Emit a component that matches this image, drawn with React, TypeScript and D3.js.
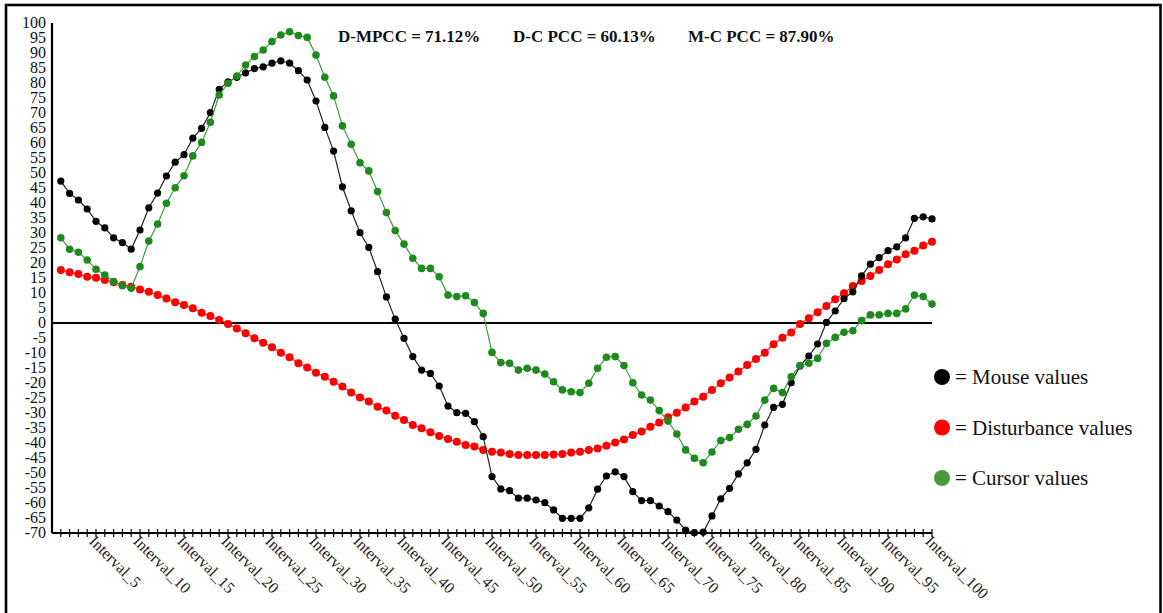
import React from "react";
import * as d3 from "d3";

const intervals: number[] = d3.range(1, 101);

const mouseValues: number[] = [
  47.3, 43.2, 41, 38, 33.9, 31.7, 28.4, 26.8, 24.6, 31,
  38.4, 43.3, 49, 53.6, 56.1, 61.6, 64.9, 70.1, 77.9, 80.4,
  81.9, 83.4, 84.8, 85.4, 86.6, 87.4, 86.6, 84.1, 81, 74,
  65.2, 57.3, 45.4, 37.4, 30.1, 25.2, 17.1, 8.7, 1.3, -5.1,
  -11.2, -15.7, -16.8, -21, -27.7, -29.9, -30.1, -32.9, -37.9, -51.2,
  -55.3, -55.9, -58.4, -58.4, -59, -59.9, -62.3, -65.1, -65.1, -65.1,
  -61.6, -55.4, -51, -49.6, -51.2, -56.2, -59.2, -59.2, -61, -62.9,
  -65.7, -69, -69.9, -69.7, -64.3, -58.6, -55.1, -50.3, -46.6, -42.1,
  -34, -28.1, -27.1, -19.9, -14.3, -11, -7, 0.2, 4, 8.1,
  10.4, 15.7, 19.6, 21.8, 24.1, 25.4, 28.4, 34.9, 35.4, 34.7,
];

const disturbanceValues: number[] = [
  17.7, 16.9, 16.3, 15.4, 15.1, 14.3, 13.6, 12.7, 12.1, 11.2,
  10.4, 9.3, 8.2, 6.9, 6, 4.9, 3.4, 2.3, 1, -0.3,
  -1.8, -3.4, -5.1, -6.6, -8.1, -9.9, -11.4, -13.4, -14.8, -16.6,
  -17.9, -19.6, -21.2, -23.2, -24.8, -26.2, -27.9, -29.2, -30.9, -32.3,
  -34, -35.1, -36.4, -37.7, -38.7, -39.6, -40.7, -41.2, -42.3, -42.9,
  -43.2, -43.7, -44, -44, -44, -44, -43.8, -43.7, -43.2, -42.9,
  -42.3, -41.8, -40.9, -39.8, -38.8, -37.3, -36.2, -34.6, -33.2, -31.4,
  -29.9, -28.2, -26.2, -24.6, -22.3, -20.1, -18.2, -16.2, -14, -12,
  -9.9, -7.1, -4.9, -3.2, -0.3, 1.6, 3.6, 5.7, 7.9, 9.9,
  12.3, 14, 15.7, 17.7, 19.6, 21.2, 22.9, 24.1, 25.8, 27.1,
];

const cursorValues: number[] = [
  28.4, 24.6, 23.6, 21, 17.9, 16, 13.8, 12.4, 11.6, 18.8,
  27.3, 33, 39.9, 45.1, 49.1, 55.7, 60.2, 66.9, 76, 79.9,
  82.3, 86, 88.8, 91, 93.8, 96, 97.1, 95.8, 95.2, 89.3,
  81.9, 75.7, 65.7, 59.6, 53.4, 50.7, 43.8, 36.8, 30.8, 26.3,
  21.6, 18.2, 18.2, 15.4, 9.3, 8.8, 9.1, 6.8, 3.2, -9.8,
  -13.2, -13.4, -15.7, -15.1, -15.7, -17, -19.6, -22.3, -22.9, -23.2,
  -20.1, -15.1, -11.4, -11.2, -14.2, -19.9, -24, -25.7, -29.2, -32.7,
  -37, -42.3, -45.1, -46.6, -43, -39.2, -38.2, -35.4, -33.8, -31,
  -25.7, -21.8, -23.2, -17.9, -14.2, -13.4, -11.8, -6.8, -4.8, -3.1,
  -2.6, 0.8, 2.7, 2.7, 3.2, 3.2, 4.7, 9.3, 8.8, 6.3,
];

const yTicks: number[] = d3.range(-70, 101, 5);
const xLabelTicks: number[] = d3.range(5, 101, 5);
const pccLabels: string[] = ["D-MPCC = 71.12%", "D-C PCC = 60.13%", "M-C PCC = 87.90%"];
const legendLabels: string[] = ["= Mouse values", "= Disturbance values", "= Cursor values"];

const W = 1163;
const H = 613;
const FONT = '"Liberation Serif", "Times New Roman", serif';

export default function App() {
  const x = d3.scaleLinear().domain([0, 100]).range([52, 932]);
  const y = d3.scaleLinear().domain([-70, 100]).range([533, 23]);

  const line = (vals: number[]) =>
    d3
      .line<number>()
      .x((_, i) => x(intervals[i]))
      .y((v) => y(v))(vals) || "";

  const series = [
    { vals: disturbanceValues, line: "#ff2020", dot: "#ff0000", r: 4 },
    { vals: mouseValues, line: "#222", dot: "#000", r: 3.6 },
    { vals: cursorValues, line: "#3c9e3c", dot: "#1e8a1e", r: 3.8 },
  ];

  const legendColors = ["#000", "#ff0000", "#4a9a3c"];

  return (
    <div style={{ position: "absolute", left: 0, top: 0 }}>
      <svg width={W} height={H} style={{ display: "block", fontFamily: FONT }}>
        <rect x={0} y={0} width={W} height={H} fill="#fff" />
        <rect x={6} y={5} width={1154.5} height={700} fill="none" stroke="#000" strokeWidth={2.6} />

        {/* y axis */}
        <line x1={x(0)} x2={x(0)} y1={y(100)} y2={y(-70)} stroke="#000" strokeWidth={2.2} />
        {yTicks.map((t) => (
          <text key={t} x={46} y={y(t)} dy="0.33em" textAnchor="end" fontSize={16} fill="#111">
            {t}
          </text>
        ))}

        {/* x axis */}
        <line x1={x(0)} x2={x(100)} y1={y(-70)} y2={y(-70)} stroke="#000" strokeWidth={2.2} />
        {intervals.map((i) => (
          <line key={i} x1={x(i)} x2={x(i)} y1={y(-70) - 4} y2={y(-70) + 4} stroke="#000" strokeWidth={1.2} />
        ))}
        {xLabelTicks.map((i) => (
          <text
            key={i}
            transform={`translate(${x(i)},${y(-70)}) rotate(45)`}
            x={1}
            dy="0.75em"
            fontSize={16}
            fill="#222"
          >
            {`Interval_${i}`}
          </text>
        ))}

        {/* zero line */}
        <line x1={x(0)} x2={x(100)} y1={y(0)} y2={y(0)} stroke="#000" strokeWidth={2} />

        {series.map((s, k) => (
          <g key={k}>
            <path d={line(s.vals)} fill="none" stroke={s.line} strokeWidth={1.2} />
            {s.vals.map((v, i) => (
              <circle key={i} cx={x(intervals[i])} cy={y(v)} r={s.r} fill={s.dot} />
            ))}
          </g>
        ))}

        {/* PCC header */}
        {pccLabels.map((t, i) => (
          <text key={t} x={338 + i * 175} y={41.5} fontSize={17} fontWeight="bold" fill="#111">
            {t}
          </text>
        ))}

        {/* legend */}
        {legendLabels.map((t, i) => (
          <g key={t}>
            <circle cx={942} cy={377 + i * 50.5} r={8} fill={legendColors[i]} />
            <text x={955} y={384 + i * 50.5} fontSize={21} fill="#111">
              {t}
            </text>
          </g>
        ))}
      </svg>
    </div>
  );
}
